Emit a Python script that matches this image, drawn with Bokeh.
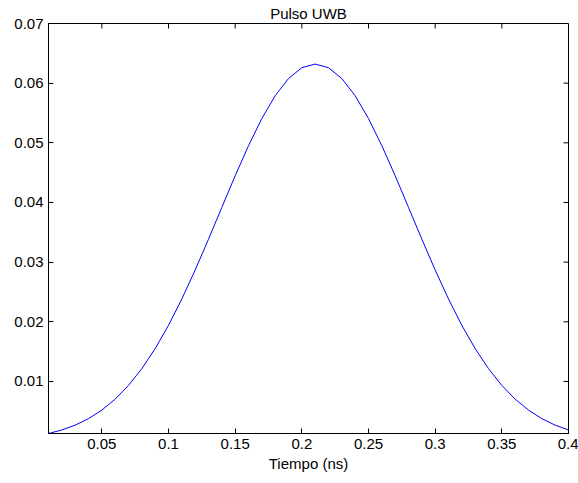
import math
from bokeh.plotting import figure
from bokeh.models import Range1d, LinearAxis, FixedTicker
from bokeh.embed import file_html
from bokeh.resources import INLINE

# ---- data ----
tiempo = [0.01, 0.02, 0.03, 0.04, 0.05, 0.06, 0.07, 0.08, 0.09, 0.10,
          0.11, 0.12, 0.13, 0.14, 0.15, 0.16, 0.17, 0.18, 0.19, 0.20,
          0.21, 0.22, 0.23, 0.24, 0.25, 0.26, 0.27, 0.28, 0.29, 0.30,
          0.31, 0.32, 0.33, 0.34, 0.35, 0.36, 0.37, 0.38, 0.39, 0.40]
pulso = [0.00128, 0.00187, 0.00268, 0.00377, 0.00520, 0.00704, 0.00934, 0.01215, 0.01551, 0.01941,
         0.02383, 0.02868, 0.03385, 0.03918, 0.04448, 0.04952, 0.05407, 0.05789, 0.06078, 0.06259,
         0.06320, 0.06259, 0.06078, 0.05789, 0.05407, 0.04952, 0.04448, 0.03918, 0.03385, 0.02868,
         0.02383, 0.01941, 0.01551, 0.01215, 0.00934, 0.00704, 0.00520, 0.00377, 0.00268, 0.00187]

x_ticks = [0.05, 0.1, 0.15, 0.2, 0.25, 0.3, 0.35, 0.4]
x_tick_labels = ["0.05", "0.1", "0.15", "0.2", "0.25", "0.3", "0.35", "0.4"]
y_ticks = [0.01, 0.02, 0.03, 0.04, 0.05, 0.06, 0.07]
y_tick_labels = ["0.01", "0.02", "0.03", "0.04", "0.05", "0.06", "0.07"]
x_limits = [0.01, 0.4]
y_top = 0.07

title_text = "Pulso UWB"
x_label = "Tiempo (ns)"

FONT = "Liberation Sans"
FS = "15px"

p = figure(width=578, height=483, output_backend="svg", toolbar_location=None,
           x_range=Range1d(x_limits[0], x_limits[1]),
           y_range=Range1d(min(pulso), y_top),
           x_axis_location=None, y_axis_location=None)
p.min_border_left = 48
p.min_border_right = 10
p.min_border_top = 23
p.min_border_bottom = 50
p.background_fill_color = "white"
p.border_fill_color = "white"
p.outline_line_color = "black"
p.outline_line_width = 1
p.xgrid.visible = False
p.ygrid.visible = False

p.title.text = title_text
p.title.align = "center"
p.title.text_font = FONT
p.title.text_font_size = FS
p.title.text_font_style = "normal"
p.title.text_color = "black"
p.title.standoff = 4


def style_axis(ax, ticks, labels):
    ax.ticker = FixedTicker(ticks=ticks)
    ax.major_label_overrides = dict(zip(ticks, labels))
    ax.major_tick_in = 5
    ax.major_tick_out = 0
    ax.minor_tick_line_color = None
    ax.axis_line_color = "black"
    ax.major_tick_line_color = "black"
    ax.major_label_text_font = FONT
    ax.major_label_text_color = "black"
    ax.major_label_text_font_size = FS
    ax.major_label_standoff = 5


bottom = LinearAxis()
style_axis(bottom, x_ticks, x_tick_labels)
bottom.axis_label = x_label
bottom.axis_label_text_font = FONT
bottom.axis_label_text_font_size = FS
bottom.axis_label_text_font_style = "normal"
bottom.axis_label_text_color = "black"
bottom.axis_label_standoff = 3
p.add_layout(bottom, "below")

left = LinearAxis()
style_axis(left, y_ticks, y_tick_labels)
p.add_layout(left, "left")

# inward ticks on the top and right edges of the box (MATLAB style)
p.ray(x=x_ticks, y=[y_top] * len(x_ticks), length=5, length_units="screen",
      angle=-math.pi / 2, line_color="black", line_width=1)
p.ray(x=[x_limits[1]] * len(y_ticks), y=y_ticks, length=5, length_units="screen",
      angle=math.pi, line_color="black", line_width=1)

p.line(tiempo, pulso, line_color="#0000ff", line_width=1)

open("out.html", "w").write(file_html(p, INLINE))
